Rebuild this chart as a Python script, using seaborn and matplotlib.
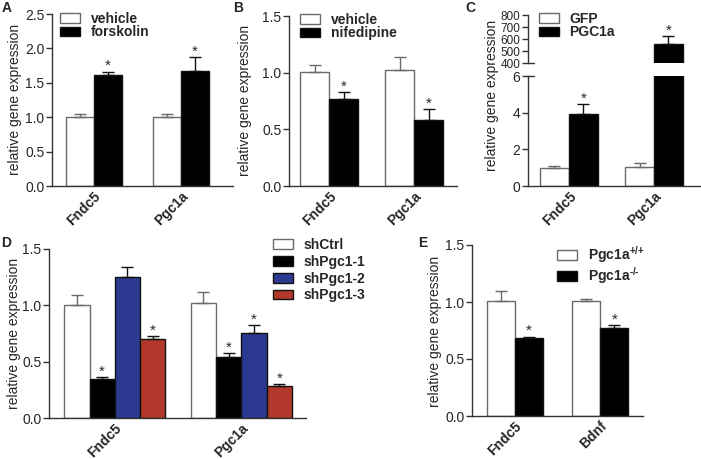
import numpy as np
import pandas as pd
import matplotlib
matplotlib.use('Agg')
import matplotlib.pyplot as plt
import seaborn as sns
from matplotlib.patches import Patch

# ---- data ----
genes_a = ['Fndc5', 'Pgc1a']
groups_a = ['vehicle', 'forskolin']
mean_a = [[1.00, 1.61], [1.00, 1.67]]
err_a = [[0.04, 0.05], [0.05, 0.20]]
star_a = [[0, 1], [0, 1]]

genes_b = ['Fndc5', 'Pgc1a']
groups_b = ['vehicle', 'nifedipine']
mean_b = [[1.01, 0.77], [1.02, 0.585]]
err_b = [[0.06, 0.06], [0.12, 0.095]]
star_b = [[0, 1], [0, 1]]

genes_c = ['Fndc5', 'Pgc1a']
groups_c = ['GFP', 'PGC1a']
mean_c = [[1.00, 3.93], [1.02, 559]]
err_c = [[0.08, 0.52], [0.22, 65]]
star_c = [[0, 1], [0, 1]]

genes_d = ['Fndc5', 'Pgc1a']
groups_d = ['shCtrl', 'shPgc1-1', 'shPgc1-2', 'shPgc1-3']
mean_d = [[1.006, 0.346, 1.25, 0.70], [1.018, 0.544, 0.754, 0.281]]
err_d = [[0.085, 0.015, 0.087, 0.028], [0.10, 0.03, 0.071, 0.019]]
star_d = [[0, 1, 0, 1], [0, 1, 1, 1]]

genes_e = ['Fndc5', 'Bdnf']
groups_e = [r'Pgc1a$^{\text{+/+}}$', r'Pgc1a$^{\text{-/-}}$']
mean_e = [[1.008, 0.68], [1.005, 0.77]]
err_e = [[0.091, 0.017], [0.023, 0.024]]
star_e = [[0, 1], [0, 1]]

two_cols = ['#ffffff', '#000000']
four_cols = ['#ffffff', '#000000', '#2b3990', '#b2382b']

W, H = 701, 459
sns.set_style('ticks')
plt.rcParams['font.family'] = ['Liberation Sans', 'DejaVu Sans']
plt.rcParams['mathtext.fontset'] = 'custom'
plt.rcParams['mathtext.rm'] = 'Liberation Sans:bold'
plt.rcParams['mathtext.bf'] = 'Liberation Sans:bold'

fig = plt.figure(figsize=(W / 100, H / 100), dpi=100)
AX = '#333333'


def px_axes(l, t, r, b):
    return fig.add_axes([l / W, 1 - b / H, (r - l) / W, (b - t) / H])


def bars(ax, genes, groups, means, errs, stars, cols, width, xlim, ylim, yticks, fmt,
         xlabels=True, ysize=10):
    rows = []
    for i, g in enumerate(genes):
        for j, h in enumerate(groups):
            rows.append({'gene': g, 'group': h, 'value': means[i][j]})
    df = pd.DataFrame(rows)
    sns.barplot(data=df, x='gene', y='value', hue='group', order=genes, hue_order=groups,
                palette=cols, width=width, gap=0, errorbar=None, legend=False,
                linewidth=1, edgecolor='#111111', saturation=1, ax=ax)
    ps = sorted(ax.patches, key=lambda p: p.get_x())
    fe = [e for r in errs for e in r]
    fs = [s for r in stars for s in r]
    for p, e, s in zip(ps, fe, fs):
        x = p.get_x() + p.get_width() / 2
        h = p.get_height()
        fc = p.get_facecolor()
        white = fc[0] > 0.9 and fc[1] > 0.9 and fc[2] > 0.9
        ec = '#6a6a6a' if white else '#111111'
        p.set_edgecolor(ec)
        ax.errorbar(x, h, yerr=[[0], [e]], fmt='none', ecolor=ec, elinewidth=1,
                    capsize=4, capthick=1)
        if s:
            ax.annotate('*', (x, h + e), xytext=(0, -1), textcoords='offset points',
                        ha='center', va='bottom', fontsize=11)
    ax.set_xlim(*xlim)
    ax.set_ylim(*ylim)
    ax.set_yticks(yticks)
    ax.set_yticklabels([fmt.format(v) for v in yticks])
    ax.set_xlabel('')
    ax.set_ylabel('')
    sns.despine(ax=ax)
    for sp in ['left', 'bottom']:
        ax.spines[sp].set_color(AX)
        ax.spines[sp].set_linewidth(1)
    ax.tick_params(axis='y', direction='out', length=4, width=1, color=AX, labelsize=ysize, pad=1.5)
    ax.tick_params(axis='x', length=0, labelsize=10, pad=2)
    if xlabels:
        for lab in ax.get_xticklabels():
            lab.set_rotation(45)
            lab.set_ha('right')
            lab.set_rotation_mode('anchor')
            lab.set_fontweight('bold')


def legend(ax, groups, cols, x, y, spacing=-0.05):
    hs = [Patch(facecolor=c, edgecolor='#6a6a6a' if c == '#ffffff' else '#111111', linewidth=1)
          for c in cols]
    ax.legend(hs, groups, loc='upper left', bbox_to_anchor=(x / W, 1 - y / H),
              bbox_transform=fig.transFigure, frameon=False, borderpad=0, borderaxespad=0,
              handlelength=1.45, handleheight=0.7, handletextpad=0.75, labelspacing=spacing,
              prop={'weight': 'bold', 'size': 10})


# A
ax_a = px_axes(52, 14, 233, 186)
bars(ax_a, genes_a, groups_a, mean_a, err_a, star_a, two_cols, 0.64, (-0.48, 1.6), (0, 2.5),
     [0, 0.5, 1.0, 1.5, 2.0, 2.5], '{:.1f}')
legend(ax_a, groups_a, two_cols, 60, 12)

# B
ax_b = px_axes(289, 16, 457, 186)
bars(ax_b, genes_b, groups_b, mean_b, err_b, star_b, two_cols, 0.68, (-0.47, 1.5), (0, 1.5),
     [0, 0.5, 1.0, 1.5], '{:.1f}')
legend(ax_b, groups_b, two_cols, 300, 13)

# C (broken axis)
ax_c = px_axes(528, 76, 700, 186)
bars(ax_c, genes_c, groups_c, mean_c, err_c, star_c, two_cols, 0.68, (-0.48, 1.54), (0, 6),
     [0, 2, 4, 6], '{:.0f}')
ax_c2 = px_axes(528, 15, 700, 63)
bars(ax_c2, genes_c, groups_c, mean_c, err_c, star_c, two_cols, 0.68, (-0.48, 1.54), (400, 800),
     [400, 500, 600, 700, 800], '{:.0f}', xlabels=False, ysize=8.5)
ax_c2.spines['bottom'].set_visible(False)
ax_c2.set_xticks([])
for a, yv in [(ax_c, 1.0), (ax_c2, 0.0)]:
    a.plot([0, 0.035], [yv, yv], transform=a.transAxes, color=AX, lw=1, clip_on=False)
legend(ax_c2, groups_c, two_cols, 539, 12)

# D
ax_d = px_axes(49, 249, 306, 418)
bars(ax_d, genes_d, groups_d, mean_d, err_d, star_d, four_cols, 0.8, (-0.52, 1.51), (0, 1.5),
     [0, 0.5, 1.0, 1.5], '{:.1f}')
legend(ax_d, groups_d, four_cols, 273, 238, spacing=0.2)

# E
ax_e = px_axes(472, 245, 643, 416)
bars(ax_e, genes_e, groups_e, mean_e, err_e, star_e, two_cols, 0.66, (-0.5, 1.5), (0, 1.5),
     [0, 0.5, 1.0, 1.5], '{:.1f}')
legend(ax_e, groups_e, two_cols, 557, 244, spacing=0.0)

# y labels and panel letters
for x, y in [(15, 99), (245, 100), (492, 95), (14, 333), (435, 331)]:
    fig.text(x / W, 1 - y / H, 'relative gene expression', rotation=90, ha='center',
             va='center', fontsize=10)
for x, y, t in [(2, 8, 'A'), (233, 8, 'B'), (465, 8, 'C'), (1, 243, 'D'), (418, 243, 'E')]:
    fig.text(x / W, 1 - y / H, t, ha='left', va='center', fontsize=10, fontweight='bold')

fig.savefig('out.png', dpi=100)
